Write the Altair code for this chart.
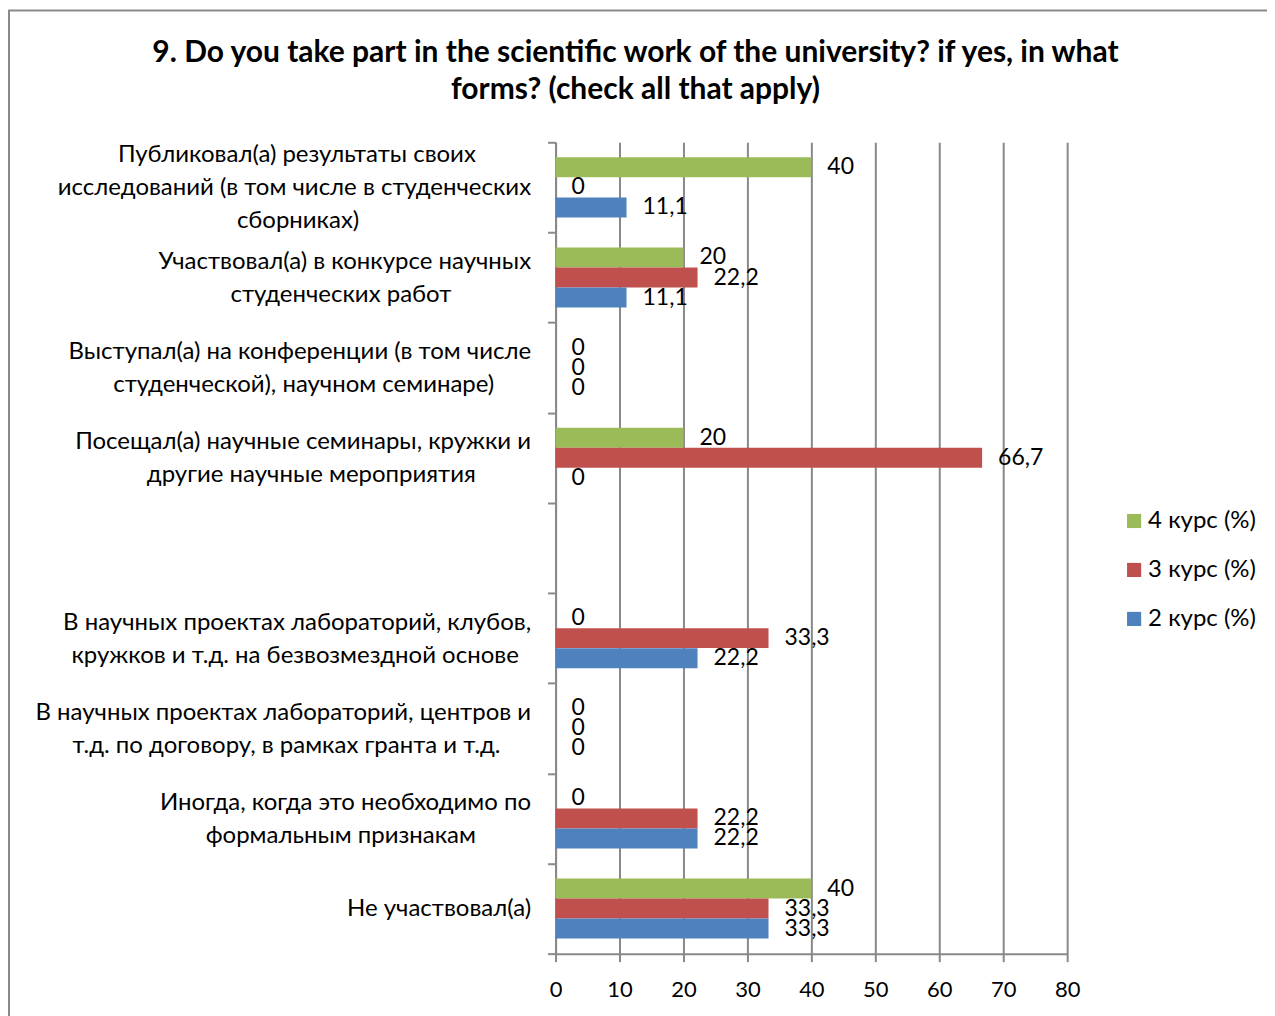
import altair as alt
import pandas as pd

categories = [
    "Публиковал(а) результаты своих|исследований (в том числе в студенческих|сборниках)",
    "Участвовал(а) в конкурсе научных|студенческих работ",
    "Выступал(а) на конференции (в том числе|студенческой), научном семинаре)",
    "Посещал(а) научные семинары, кружки и|другие научные мероприятия",
    "",
    "В научных проектах лабораторий, клубов,|кружков и т.д. на безвозмездной основе",
    "В научных проектах лабораторий, центров и|т.д. по договору, в рамках гранта и т.д.",
    "Иногда, когда это необходимо по|формальным признакам",
    "Не участвовал(а)",
]
series = ["4 курс (%)", "3 курс (%)", "2 курс (%)"]
kurs4 = [40, 20, 0, 20, None, 0, 0, 0, 40]
kurs3 = [0, 22.2, 0, 66.7, None, 33.3, 0, 22.2, 33.3]
kurs2 = [11.1, 11.1, 0, 0, None, 22.2, 0, 22.2, 33.3]
colors = ["#9BBB59", "#C0504D", "#4F81BD"]
x_ticks = [0, 10, 20, 30, 40, 50, 60, 70, 80]
title_lines = [
    "9. Do you take part in the scientific work of the university? if yes, in what",
    "forms? (check all that apply)",
]

FONT = "Lato"
LABEL_SIZE = 24
NBSP_W = 0.256


def est_width(s):
    w = 0.0
    for ch in s:
        if ch == " ":
            w += 0.193
        elif ch in ".,":
            w += 0.22
        elif ch in "()":
            w += 0.30
        elif ch.isdigit():
            w += 0.58
        elif ch.isupper():
            w += 0.68
        else:
            w += 0.54
    return w


def centered(label):
    if label == "":
        return "\u00a0"
    lines = label.split("|")
    mx = max(est_width(l) for l in lines)
    out = []
    for l in lines:
        pad = int(round((mx - est_width(l)) / 2 / NBSP_W))
        out.append(l + "\u00a0" * pad + ("\u200d" if pad else ""))
    return "|".join(out)


display = [centered(c) for c in categories]

rows = []
for i, cat in enumerate(display):
    for s, vals in zip(series, [kurs4, kurs3, kurs2]):
        v = vals[i]
        if v is None:
            continue
        rows.append({
            "cat": cat,
            "series": s,
            "value": v,
            "label": f"{v:g}".replace(".", ","),
        })
df = pd.DataFrame(rows)

y_scale = alt.Scale(domain=display, paddingInner=0, paddingOuter=0)
y_enc = alt.Y(
    "cat:N",
    sort=display,
    scale=y_scale,
    axis=alt.Axis(
        title=None,
        labelExpr="split(datum.label, '|')",
        labelFont=FONT,
        labelFontSize=LABEL_SIZE,
        labelLineHeight=33,
        labelColor="#000000",
        labelAlign="right",
        labelBaseline="middle",
        labelPadding=17,
        labelLimit=600,
        labelOffset={
            "condition": [
                {"test": "length(split(datum.value, '|')) == 3", "value": -33},
                {"test": "length(split(datum.value, '|')) == 2", "value": -16},
            ],
            "value": 0,
        },
        tickBand="extent",
        tickSize=8,
        tickColor="#898989",
        tickWidth=2,
        domainColor="#898989",
        domainWidth=2,
        grid=False,
    ),
)
yoff = alt.YOffset(
    "series:N",
    sort=series,
    scale=alt.Scale(domain=series, paddingInner=0, paddingOuter=0.75),
)
x_enc = alt.X(
    "value:Q",
    scale=alt.Scale(domain=[0, 80], nice=False),
    axis=alt.Axis(
        title=None,
        values=x_ticks,
        labelFont=FONT,
        labelFontSize=22,
        labelColor="#000000",
        labelPadding=18,
        labelFlush=False,
        tickSize=8,
        tickColor="#898989",
        tickWidth=2,
        domainColor="#898989",
        domainWidth=2,
        grid=True,
        gridColor="#898989",
        gridWidth=2,
    ),
)

bars = alt.Chart(df).mark_bar(size=20).encode(
    x=x_enc,
    y=y_enc,
    yOffset=yoff,
    color=alt.Color(
        "series:N",
        sort=series,
        scale=alt.Scale(domain=series, range=colors),
        legend=alt.Legend(
            title=None,
            orient="none",
            legendX=567,
            legendY=367,
            symbolType="square",
            symbolSize=200,
            symbolStrokeWidth=0,
            labelFont=FONT,
            labelFontSize=24,
            labelColor="#000000",
            rowPadding=25,
            labelOffset=2,
        ),
    ),
)

texts = alt.Chart(df).mark_text(
    align="left", baseline="middle", dx=16, font=FONT, fontSize=23, color="#000000"
).encode(
    x="value:Q",
    y=alt.Y("cat:N", sort=display, scale=y_scale),
    yOffset=yoff,
    text="label:N",
)

frame = alt.Chart(pd.DataFrame({"k": [0]})).mark_rect(
    fill=None, stroke="#898989", strokeWidth=2
).encode(
    x=alt.value(-547), x2=alt.value(760), y=alt.value(-132), y2=alt.value(900)
)

chart = alt.layer(frame, bars, texts).properties(
    width=512,
    height=812,
    autosize=alt.AutoSizeParams(type="none"),
    padding={"left": 548, "top": 134, "right": 200, "bottom": 72},
    title=alt.TitleParams(
        text=title_lines,
        font=FONT,
        fontSize=30,
        fontWeight="bold",
        color="#000000",
        anchor="middle",
        dx=-176,
        lineHeight=37,
        offset=0,
        dy=96,
    ),
).configure_view(stroke=None)

chart.save("out.html", embed_options={"renderer": "svg", "actions": False})
